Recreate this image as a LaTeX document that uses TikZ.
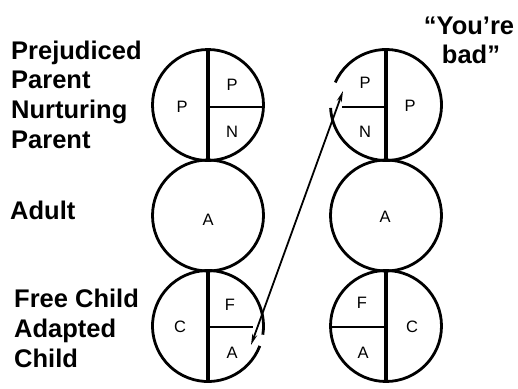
\documentclass[tikz,border=0pt]{standalone}
\usepackage{fontspec}
\setmainfont{Liberation Sans}
\usetikzlibrary{arrows.meta}
\begin{document}
\begin{tikzpicture}[x=1pt,y=-1pt,
  ring/.style={line width=2.8pt},
  divider/.style={line width=3.6pt},
  split/.style={line width=2.8pt},
  letter/.style={inner sep=0pt,font=\fontsize{16.5}{16.5}\selectfont},
  label/.style={inner sep=0pt,anchor=base west,font=\bfseries\fontsize{25.5}{28}\selectfont},
  quote/.style={inner sep=0pt,anchor=base,font=\bfseries\fontsize{25.5}{28}\selectfont},
  transaction/.style={line width=1.8pt,{Stealth[length=11pt,width=5pt]}-{Stealth[length=11pt,width=5pt]}}]
\useasboundingbox (0,0) rectangle (518,388);
\def\rad{55.5}
% ego-state centres
\coordinate (lp) at (208,105);
\coordinate (la) at (208,215.5);
\coordinate (lc) at (208,326);
\coordinate (rp) at (386,105);
\coordinate (ra) at (386,215.5);
\coordinate (rc) at (386,326);

% left person
\draw[ring] (lp) circle[radius=\rad];
\draw[ring] (la) circle[radius=\rad];
\draw[ring] (lc) ++(21:\rad) arc[start angle=21,end angle=369,radius=\rad];
\draw[divider] (208,50) -- (208,160.5);
\draw[split] (208,107) -- (263.5,107);
\draw[divider] (208,271) -- (208,381.5);
\draw[split] (208,327) -- (253,327);

% right person
\draw[ring] (rp) ++(-156:\rad) arc[start angle=-156,end angle=177,radius=\rad];
\draw[ring] (ra) circle[radius=\rad];
\draw[ring] (rc) circle[radius=\rad];
\draw[divider] (386,50) -- (386,160.5);
\draw[split] (342,107) -- (386,107);
\draw[divider] (386,271) -- (386,381.5);
\draw[split] (330.5,327) -- (386,327);

% letters in the circles
\node[letter] (lP)  at (182,107) {P};
\node[letter] (lPP) at (232,85)  {P};
\node[letter] (lN)  at (232,132) {N};
\node[letter] (lA)  at (208,220) {A};
\node[letter] (lC)  at (180,327) {C};
\node[letter] (lF)  at (230,305) {F};
\node[letter] (lAC) at (232,353) {A};
\node[letter] (rPP) at (365,83)  {P};
\node[letter] (rN)  at (365,132) {N};
\node[letter] (rP)  at (410,106) {P};
\node[letter] (rA)  at (385,217) {A};
\node[letter] (rF)  at (362,303) {F};
\node[letter] (rAC) at (363,353) {A};
\node[letter] (rC)  at (412,327) {C};

% side labels
\node[label] (t1) at (11,59)  {Prejudiced};
\node[label] (t2) at (11,88)  {Parent};
\node[label] (t3) at (11,118) {Nurturing};
\node[label] (t4) at (11,148) {Parent};
\node[label] (t5) at (10,219) {Adult};
\node[label] (t6) at (14,307) {Free Child};
\node[label] (t7) at (14,337) {Adapted};
\node[label] (t8) at (14,367) {Child};
\node[quote] (q1) at (469,34) {“You’re};
\node[quote] (q2) at (471,63) {bad”};

% crossed transaction
\coordinate (tipA) at (251,345);
\coordinate (tipP) at (343,91);
\draw[transaction] (tipA) -- (tipP);
\end{tikzpicture}
\end{document}
